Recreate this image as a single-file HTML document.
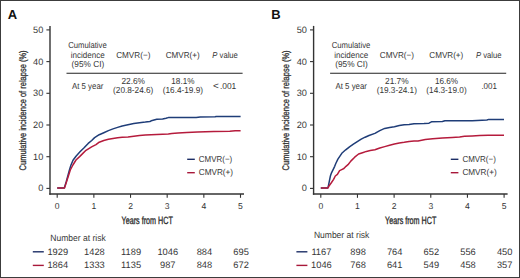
<!DOCTYPE html>
<html><head><meta charset="utf-8"><title>Cumulative incidence of relapse</title>
<style>html,body{margin:0;padding:0;background:#fff;}body{width:520px;height:278px;overflow:hidden;font-family:"Liberation Sans",sans-serif;}svg{display:block;}</style>
</head><body>
<svg width="520" height="278" viewBox="0 0 520 278" fill="#363636" font-family="'Liberation Sans', sans-serif" text-rendering="geometricPrecision">
<rect x="0" y="0" width="520" height="278" fill="#fff"/>
<rect x="0.5" y="0.5" width="519" height="277" fill="none" stroke="#3c3c3c" stroke-width="1"/>
<text x="7.70" y="18.70" font-size="13" font-weight="bold" fill="#111">A</text>
<text transform="translate(25.60,110.40) rotate(-90)" x="0" y="0" font-size="9.6" text-anchor="middle" textLength="120" lengthAdjust="spacingAndGlyphs" fill="#2e2e2e" stroke="#2e2e2e" stroke-width="0.3">Cumulative incidence of relapse (%)</text>
<line x1="50.00" y1="25.90" x2="50.00" y2="194.70" stroke="#333" stroke-width="1.4"/>
<line x1="49.30" y1="194.00" x2="244.00" y2="194.00" stroke="#333" stroke-width="1.4"/>
<line x1="46.40" y1="188.40" x2="49.90" y2="188.40" stroke="#333" stroke-width="1.1"/>
<text x="43.30" y="191.40" font-size="9.2" text-anchor="end">0</text>
<line x1="46.40" y1="156.70" x2="49.90" y2="156.70" stroke="#333" stroke-width="1.1"/>
<text x="43.30" y="159.70" font-size="9.2" text-anchor="end">10</text>
<line x1="46.40" y1="125.00" x2="49.90" y2="125.00" stroke="#333" stroke-width="1.1"/>
<text x="43.30" y="128.00" font-size="9.2" text-anchor="end">20</text>
<line x1="46.40" y1="93.30" x2="49.90" y2="93.30" stroke="#333" stroke-width="1.1"/>
<text x="43.30" y="96.30" font-size="9.2" text-anchor="end">30</text>
<line x1="46.40" y1="61.60" x2="49.90" y2="61.60" stroke="#333" stroke-width="1.1"/>
<text x="43.30" y="64.60" font-size="9.2" text-anchor="end">40</text>
<line x1="46.40" y1="29.90" x2="49.90" y2="29.90" stroke="#333" stroke-width="1.1"/>
<text x="43.30" y="32.90" font-size="9.2" text-anchor="end">50</text>
<line x1="57.20" y1="194.00" x2="57.20" y2="197.80" stroke="#333" stroke-width="1.1"/>
<text x="57.20" y="208.90" font-size="8.6" text-anchor="middle">0</text>
<line x1="93.86" y1="194.00" x2="93.86" y2="197.80" stroke="#333" stroke-width="1.1"/>
<text x="93.86" y="208.90" font-size="8.6" text-anchor="middle">1</text>
<line x1="130.52" y1="194.00" x2="130.52" y2="197.80" stroke="#333" stroke-width="1.1"/>
<text x="130.52" y="208.90" font-size="8.6" text-anchor="middle">2</text>
<line x1="167.18" y1="194.00" x2="167.18" y2="197.80" stroke="#333" stroke-width="1.1"/>
<text x="167.18" y="208.90" font-size="8.6" text-anchor="middle">3</text>
<line x1="203.84" y1="194.00" x2="203.84" y2="197.80" stroke="#333" stroke-width="1.1"/>
<text x="203.84" y="208.90" font-size="8.6" text-anchor="middle">4</text>
<line x1="240.50" y1="194.00" x2="240.50" y2="197.80" stroke="#333" stroke-width="1.1"/>
<text x="240.50" y="208.90" font-size="8.6" text-anchor="middle">5</text>
<text x="121.50" y="223.60" font-size="10.5" textLength="51.30" lengthAdjust="spacingAndGlyphs" fill="#2e2e2e" stroke="#2e2e2e" stroke-width="0.35">Years from HCT</text>
<text x="87.45" y="47.90" font-size="8.7" text-anchor="middle" textLength="38.60" lengthAdjust="spacingAndGlyphs">Cumulative</text>
<text x="87.70" y="57.60" font-size="8.7" text-anchor="middle" textLength="34.00" lengthAdjust="spacingAndGlyphs">incidence</text>
<text x="87.90" y="67.40" font-size="8.7" text-anchor="middle" textLength="32.60" lengthAdjust="spacingAndGlyphs">(95% CI)</text>
<text x="133.30" y="57.60" font-size="8.7" text-anchor="middle" textLength="34.20" lengthAdjust="spacingAndGlyphs">CMVR(−)</text>
<text x="182.70" y="57.60" font-size="8.7" text-anchor="middle" textLength="34.00" lengthAdjust="spacingAndGlyphs">CMVR(+)</text>
<text x="212.30" y="57.6" font-size="8.7" textLength="25.6" lengthAdjust="spacingAndGlyphs" fill="#363636"><tspan font-style="italic">P</tspan> value</text>
<line x1="66.50" y1="73.30" x2="242.60" y2="73.30" stroke="#222" stroke-width="1.1"/>
<text x="71.90" y="89.00" font-size="8.7" textLength="31.50" lengthAdjust="spacingAndGlyphs">At 5 year</text>
<text x="133.20" y="83.80" font-size="8.7" text-anchor="middle" textLength="23.60" lengthAdjust="spacingAndGlyphs">22.6%</text>
<text x="133.20" y="93.00" font-size="8.7" text-anchor="middle" textLength="40.20" lengthAdjust="spacingAndGlyphs">(20.8-24.6)</text>
<text x="182.90" y="83.80" font-size="8.7" text-anchor="middle" textLength="23.10" lengthAdjust="spacingAndGlyphs">18.1%</text>
<text x="182.90" y="93.00" font-size="8.7" text-anchor="middle" textLength="40.30" lengthAdjust="spacingAndGlyphs">(16.4-19.9)</text>
<text x="212.90" y="89.40" font-size="9.6" textLength="5.80" lengthAdjust="spacingAndGlyphs">&lt;</text>
<text x="219.90" y="89.00" font-size="8.7" textLength="16.40" lengthAdjust="spacingAndGlyphs">.001</text>
<line x1="187.20" y1="159.30" x2="194.80" y2="159.30" stroke="#1c2e66" stroke-width="1.4"/>
<line x1="187.20" y1="172.70" x2="194.80" y2="172.70" stroke="#a8183a" stroke-width="1.4"/>
<text x="198.80" y="161.90" font-size="8.7" textLength="33.40" lengthAdjust="spacingAndGlyphs">CMVR(−)</text>
<text x="198.80" y="175.40" font-size="8.7" textLength="34.30" lengthAdjust="spacingAndGlyphs">CMVR(+)</text>
<text x="50.30" y="241.30" font-size="9.2" textLength="55.40" lengthAdjust="spacingAndGlyphs">Number at risk</text>
<line x1="32.80" y1="251.80" x2="43.80" y2="251.80" stroke="#1c2e66" stroke-width="1.4"/>
<line x1="32.80" y1="265.40" x2="43.80" y2="265.40" stroke="#a8183a" stroke-width="1.4"/>
<text x="57.80" y="254.90" font-size="9.3" text-anchor="middle">1929</text>
<text x="57.80" y="268.30" font-size="9.3" text-anchor="middle">1864</text>
<text x="94.46" y="254.90" font-size="9.3" text-anchor="middle">1428</text>
<text x="94.46" y="268.30" font-size="9.3" text-anchor="middle">1333</text>
<text x="131.12" y="254.90" font-size="9.3" text-anchor="middle">1189</text>
<text x="131.12" y="268.30" font-size="9.3" text-anchor="middle">1135</text>
<text x="167.78" y="254.90" font-size="9.3" text-anchor="middle">1046</text>
<text x="167.78" y="268.30" font-size="9.3" text-anchor="middle">987</text>
<text x="204.44" y="254.90" font-size="9.3" text-anchor="middle">884</text>
<text x="204.44" y="268.30" font-size="9.3" text-anchor="middle">848</text>
<text x="241.10" y="254.90" font-size="9.3" text-anchor="middle">695</text>
<text x="241.10" y="268.30" font-size="9.3" text-anchor="middle">672</text>
<polyline points="57.2,187.9 64.3,187.9 66.3,181.5 67.8,176.0 69.3,170.5 70.9,165.3 73.0,160.2 76.0,156.2 80.0,151.8 84.1,147.8 88.2,143.4 91.7,140.5 94.6,137.6 99.2,134.7 103.8,132.7 108.4,130.6 113.0,128.9 117.6,127.4 122.2,126.0 126.8,125.1 133.8,123.6 139.5,122.7 145.3,122.1 149.9,121.5 152.2,120.4 156.8,119.2 162.6,119.0 166.0,118.3 168.3,117.6 196.2,117.4 200.2,116.9 215.0,116.7 216.4,116.4 240.6,116.4" fill="none" stroke="#1f3d78" stroke-width="1.5" stroke-linejoin="round"/>
<polyline points="57.2,187.9 64.6,187.9 66.6,181.5 68.4,176.0 70.3,170.0 72.9,165.0 76.0,160.0 79.6,156.6 82.6,153.6 86.0,150.3 88.8,148.6 91.6,146.9 96.0,144.6 99.2,142.2 103.8,140.5 108.4,139.3 113.0,138.5 117.6,137.8 122.2,137.3 128.0,137.0 133.8,136.3 139.5,135.6 145.3,135.1 151.0,134.7 156.8,134.4 162.6,134.2 168.3,134.0 171.8,133.5 178.0,133.0 186.8,132.5 197.5,132.0 213.7,131.6 229.8,131.2 235.2,130.7 240.6,130.7" fill="none" stroke="#b51b3c" stroke-width="1.5" stroke-linejoin="round"/>
<text x="271.30" y="18.70" font-size="13" font-weight="bold" fill="#111">B</text>
<text transform="translate(289.20,110.40) rotate(-90)" x="0" y="0" font-size="9.6" text-anchor="middle" textLength="120" lengthAdjust="spacingAndGlyphs" fill="#2e2e2e" stroke="#2e2e2e" stroke-width="0.3">Cumulative incidence of relapse (%)</text>
<line x1="313.60" y1="25.90" x2="313.60" y2="194.70" stroke="#333" stroke-width="1.4"/>
<line x1="312.90" y1="194.00" x2="507.60" y2="194.00" stroke="#333" stroke-width="1.4"/>
<line x1="310.00" y1="188.40" x2="313.50" y2="188.40" stroke="#333" stroke-width="1.1"/>
<text x="306.90" y="191.40" font-size="9.2" text-anchor="end">0</text>
<line x1="310.00" y1="156.70" x2="313.50" y2="156.70" stroke="#333" stroke-width="1.1"/>
<text x="306.90" y="159.70" font-size="9.2" text-anchor="end">10</text>
<line x1="310.00" y1="125.00" x2="313.50" y2="125.00" stroke="#333" stroke-width="1.1"/>
<text x="306.90" y="128.00" font-size="9.2" text-anchor="end">20</text>
<line x1="310.00" y1="93.30" x2="313.50" y2="93.30" stroke="#333" stroke-width="1.1"/>
<text x="306.90" y="96.30" font-size="9.2" text-anchor="end">30</text>
<line x1="310.00" y1="61.60" x2="313.50" y2="61.60" stroke="#333" stroke-width="1.1"/>
<text x="306.90" y="64.60" font-size="9.2" text-anchor="end">40</text>
<line x1="310.00" y1="29.90" x2="313.50" y2="29.90" stroke="#333" stroke-width="1.1"/>
<text x="306.90" y="32.90" font-size="9.2" text-anchor="end">50</text>
<line x1="320.80" y1="194.00" x2="320.80" y2="197.80" stroke="#333" stroke-width="1.1"/>
<text x="320.80" y="208.90" font-size="8.6" text-anchor="middle">0</text>
<line x1="357.46" y1="194.00" x2="357.46" y2="197.80" stroke="#333" stroke-width="1.1"/>
<text x="357.46" y="208.90" font-size="8.6" text-anchor="middle">1</text>
<line x1="394.12" y1="194.00" x2="394.12" y2="197.80" stroke="#333" stroke-width="1.1"/>
<text x="394.12" y="208.90" font-size="8.6" text-anchor="middle">2</text>
<line x1="430.78" y1="194.00" x2="430.78" y2="197.80" stroke="#333" stroke-width="1.1"/>
<text x="430.78" y="208.90" font-size="8.6" text-anchor="middle">3</text>
<line x1="467.44" y1="194.00" x2="467.44" y2="197.80" stroke="#333" stroke-width="1.1"/>
<text x="467.44" y="208.90" font-size="8.6" text-anchor="middle">4</text>
<line x1="504.10" y1="194.00" x2="504.10" y2="197.80" stroke="#333" stroke-width="1.1"/>
<text x="504.10" y="208.90" font-size="8.6" text-anchor="middle">5</text>
<text x="385.10" y="223.60" font-size="10.5" textLength="51.30" lengthAdjust="spacingAndGlyphs" fill="#2e2e2e" stroke="#2e2e2e" stroke-width="0.35">Years from HCT</text>
<text x="351.05" y="47.90" font-size="8.7" text-anchor="middle" textLength="38.60" lengthAdjust="spacingAndGlyphs">Cumulative</text>
<text x="351.30" y="57.60" font-size="8.7" text-anchor="middle" textLength="34.00" lengthAdjust="spacingAndGlyphs">incidence</text>
<text x="351.50" y="67.40" font-size="8.7" text-anchor="middle" textLength="32.60" lengthAdjust="spacingAndGlyphs">(95% CI)</text>
<text x="396.90" y="57.60" font-size="8.7" text-anchor="middle" textLength="34.20" lengthAdjust="spacingAndGlyphs">CMVR(−)</text>
<text x="446.30" y="57.60" font-size="8.7" text-anchor="middle" textLength="34.00" lengthAdjust="spacingAndGlyphs">CMVR(+)</text>
<text x="475.90" y="57.6" font-size="8.7" textLength="25.6" lengthAdjust="spacingAndGlyphs" fill="#363636"><tspan font-style="italic">P</tspan> value</text>
<line x1="330.10" y1="73.30" x2="506.20" y2="73.30" stroke="#222" stroke-width="1.1"/>
<text x="335.50" y="89.00" font-size="8.7" textLength="31.50" lengthAdjust="spacingAndGlyphs">At 5 year</text>
<text x="396.80" y="83.80" font-size="8.7" text-anchor="middle" textLength="23.60" lengthAdjust="spacingAndGlyphs">21.7%</text>
<text x="396.80" y="93.00" font-size="8.7" text-anchor="middle" textLength="40.20" lengthAdjust="spacingAndGlyphs">(19.3-24.1)</text>
<text x="446.50" y="83.80" font-size="8.7" text-anchor="middle" textLength="23.10" lengthAdjust="spacingAndGlyphs">16.6%</text>
<text x="446.50" y="93.00" font-size="8.7" text-anchor="middle" textLength="40.30" lengthAdjust="spacingAndGlyphs">(14.3-19.0)</text>
<text x="481.40" y="89.00" font-size="8.7" textLength="15.60" lengthAdjust="spacingAndGlyphs">.001</text>
<line x1="450.80" y1="159.30" x2="458.40" y2="159.30" stroke="#1c2e66" stroke-width="1.4"/>
<line x1="450.80" y1="172.70" x2="458.40" y2="172.70" stroke="#a8183a" stroke-width="1.4"/>
<text x="462.40" y="161.90" font-size="8.7" textLength="33.40" lengthAdjust="spacingAndGlyphs">CMVR(−)</text>
<text x="462.40" y="175.40" font-size="8.7" textLength="34.30" lengthAdjust="spacingAndGlyphs">CMVR(+)</text>
<text x="313.90" y="237.90" font-size="9.2" textLength="55.40" lengthAdjust="spacingAndGlyphs">Number at risk</text>
<line x1="296.40" y1="251.80" x2="307.40" y2="251.80" stroke="#1c2e66" stroke-width="1.4"/>
<line x1="296.40" y1="265.40" x2="307.40" y2="265.40" stroke="#a8183a" stroke-width="1.4"/>
<text x="321.40" y="254.90" font-size="9.3" text-anchor="middle">1167</text>
<text x="321.40" y="268.30" font-size="9.3" text-anchor="middle">1046</text>
<text x="358.06" y="254.90" font-size="9.3" text-anchor="middle">898</text>
<text x="358.06" y="268.30" font-size="9.3" text-anchor="middle">768</text>
<text x="394.72" y="254.90" font-size="9.3" text-anchor="middle">764</text>
<text x="394.72" y="268.30" font-size="9.3" text-anchor="middle">641</text>
<text x="431.38" y="254.90" font-size="9.3" text-anchor="middle">652</text>
<text x="431.38" y="268.30" font-size="9.3" text-anchor="middle">549</text>
<text x="468.04" y="254.90" font-size="9.3" text-anchor="middle">556</text>
<text x="468.04" y="268.30" font-size="9.3" text-anchor="middle">458</text>
<text x="504.70" y="254.90" font-size="9.3" text-anchor="middle">450</text>
<text x="504.70" y="268.30" font-size="9.3" text-anchor="middle">357</text>
<polyline points="320.8,187.9 327.7,187.9 328.2,186.8 329.3,181.4 330.4,176.0 331.5,172.8 333.1,169.6 334.7,166.3 335.8,163.5 337.9,159.1 341.8,153.3 345.7,149.8 349.5,146.8 353.4,144.2 357.3,141.7 361.2,139.2 365.1,137.2 369.0,135.5 374.9,133.4 379.8,130.6 384.7,128.4 389.6,127.5 394.4,126.8 399.3,125.6 404.2,124.7 409.1,124.4 414.0,123.7 424.1,123.6 429.0,123.2 431.4,121.8 442.4,121.5 444.9,120.8 472.2,120.8 482.0,120.2 486.9,120.0 488.7,119.4 504.0,119.4" fill="none" stroke="#1f3d78" stroke-width="1.5" stroke-linejoin="round"/>
<polyline points="320.8,187.9 328.0,187.9 328.8,186.3 331.5,182.5 333.6,179.3 335.3,176.0 337.4,174.4 339.6,170.6 341.7,169.6 343.9,168.5 346.0,166.3 348.0,164.7 350.8,161.1 354.7,157.2 358.6,154.0 362.5,152.7 366.4,151.4 370.2,150.6 374.9,149.8 379.8,148.0 384.7,146.6 389.6,145.2 394.4,144.0 399.3,142.9 404.2,142.3 409.1,141.5 414.0,141.0 418.0,140.9 425.3,139.5 432.7,138.7 442.4,137.9 452.2,137.4 459.6,137.1 464.5,136.3 472.2,135.9 479.6,135.5 488.1,135.2 504.0,135.2" fill="none" stroke="#b51b3c" stroke-width="1.5" stroke-linejoin="round"/>
</svg>
</body></html>
